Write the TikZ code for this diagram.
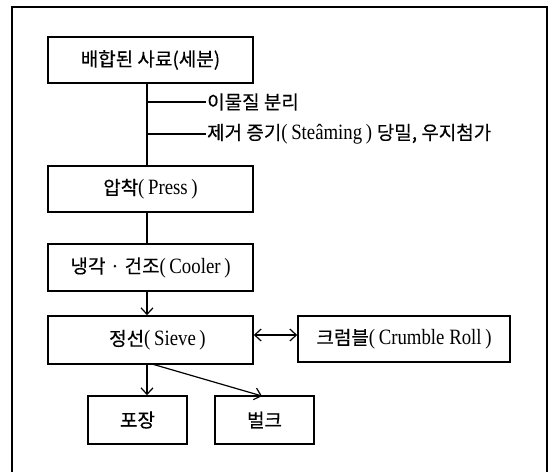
\documentclass[tikz,border=0pt]{standalone}
\usepackage{fontspec}
\setmainfont[Scale=1.15,FakeStretch=0.86]{Liberation Serif}
\newfontfamily\krf[FakeBold=0.4]{Noto Sans CJK KR}
\newcommand{\kr}[1]{{\krf #1}}
\usetikzlibrary{arrows.meta}
\begin{document}
\begin{tikzpicture}[x=1pt,y=-1pt,
  stepbox/.style={draw,line width=1.6pt,inner sep=0pt,font=\fontsize{19}{21}\selectfont},
  conn/.style={line width=1.2pt},
  tip/.tip={Straight Barb[length=6.5pt,width=12pt,line width=1.2pt]},
  arr/.style={conn,-tip},
  darr/.style={conn,tip-tip},
  lbl/.style={inner sep=1pt,anchor=west,font=\fontsize{19}{21}\selectfont}]
\useasboundingbox (0,0) rectangle (551,471);
\begin{scope}
\clip (0,0) rectangle (551,471);
\draw[line width=1.4pt] (12,480) -- (12,7) -- (547,7) -- (547,480);
\end{scope}
\node[stepbox,minimum width=205pt,minimum height=46pt] (b1) at (150.5,60) {\kr{배합된 사료(세분)}};
\node[stepbox,minimum width=205pt,minimum height=46pt] (press) at (150.5,189) {\kr{압착}(\,Press\,)};
\node[stepbox,minimum width=205pt,minimum height=47pt] (cool) at (150.5,267.5) {\kr{냉각 · 건조}(\,Cooler\,)};
\node[stepbox,minimum width=205pt,minimum height=48pt] (sieve) at (150.5,340) {\hspace*{14pt}\kr{정선}(\,Sieve\,)};
\node[stepbox,minimum width=212pt,minimum height=46pt] (crumble) at (404,339) {\kr{크럼블}(\,Crumble Roll\,)};
\node[stepbox,minimum width=99pt,minimum height=48pt] (pack) at (137.5,420) {\kr{포장}};
\node[stepbox,minimum width=99pt,minimum height=48pt] (bulk) at (264.5,420) {\kr{벌크}};
\coordinate (vx) at (147,0);
\coordinate (j1) at (147,102);
\coordinate (j2) at (147,134);
\node[lbl] (t1) at (206,102) {\kr{이물질 분리}};
\node[lbl] (t2) at (206,134) {\kr{제거 증기}(\,Steâming\,) \kr{당밀, 우지첨가}};
\draw[conn] (b1.south -| vx) -- (press.north -| vx);
\draw[conn] (j1) -- (t1.west);
\draw[conn] (j2) -- (t2.west);
\draw[conn] (press.south -| vx) -- (cool.north -| vx);
\draw[arr] (cool.south -| vx) -- (sieve.north -| vx);
\draw[arr] (sieve.south -| vx) -- (pack.north -| vx);
\coordinate (s2) at (152,364);
\coordinate (b2) at (262,396);
\draw[arr] (s2) -- (b2);
\draw[darr] (sieve.east |- 0,335) -- (crumble.west |- 0,335);
\end{tikzpicture}
\end{document}
